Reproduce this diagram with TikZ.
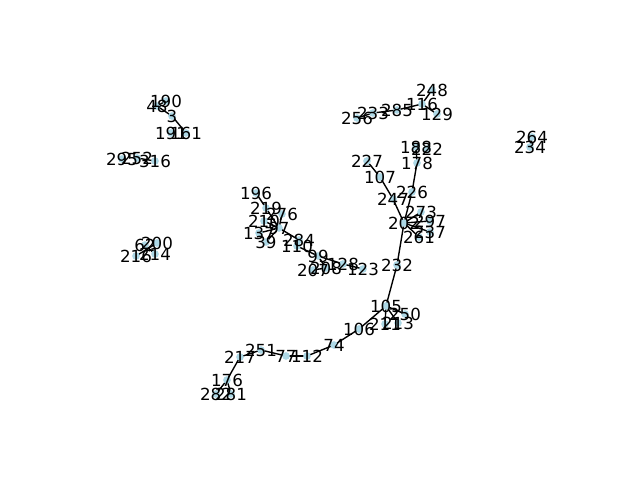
\documentclass[tikz,border=0pt]{standalone}
\usepackage{fontspec}
\setmainfont{DejaVu Sans}
\begin{document}
\begin{tikzpicture}[x=0.72pt,y=-0.72pt,
  vtx/.style={circle,fill={rgb,255:red,173;green,216;blue,230},minimum size=5.5pt,inner sep=0pt},
  lbl/.style={inner sep=0pt,font=\fontsize{12pt}{14pt}\selectfont},
  edge/.style={line width=1pt,black}]
\useasboundingbox (0,0) rectangle (640,480);
\foreach \n/\x/\y in {
 190/166/101, 48/157/106, 3/172/116, 191/171/133, 161/186/133,
 295/122/159, 252/137/158, 316/155/161,
 248/432/90, 116/422/104, 129/437/114, 285/397/110, 233/373/113, 256/357/118,
 264/532/137, 234/530/147,
 188/416/147, 222/427/149, 178/417/163, 227/367/161, 107/380/177,
 226/412/192, 247/393/199, 273/421/212, 297/430/221, 202/404/223,
 237/430/232, 261/419/237, 232/397/265,
 105/386/306, 250/405/314, 211/385/324, 213/398/323, 106/359/329,
 74/334/345, 112/307/356, 77/286/356, 251/261/350, 217/240/357,
 176/227/380, 282/216/394, 281/231/394,
 196/256/193, 219/266/208, 276/282/214, 210/264/221, 97/279/228,
 137/259/233, 39/266/242, 284/299/240, 110/297/246, 99/318/256,
 128/343/264, 123/363/269, 207/313/270, 208/326/268,
 200/157/243, 62/145/245, 216/136/256, 214/155/254}
 { \coordinate (c\n) at (\x,\y); }
% edges
\foreach \a/\b in {48/3, 190/48, 3/161, 252/316,
 256/233, 233/285, 285/116, 116/248, 116/129, 264/234,
 188/178, 178/226, 226/202, 227/107, 107/247, 247/202,
 202/273, 202/297, 202/237, 202/261, 202/232, 232/105,
 105/250, 105/213, 105/211, 105/106, 106/74, 74/112, 112/77, 77/251,
 251/217, 217/176, 176/282, 176/281,
 196/219, 219/97, 276/97, 210/97, 137/97, 39/97, 97/284, 284/110, 110/99,
 99/128, 128/123, 99/208, 208/207, 62/214, 200/216}
 { \draw[edge] (c\a) -- (c\b); }
% nodes
\foreach \n in {190,48,3,191,161,295,252,316,248,116,129,285,233,256,264,234,
 188,222,178,227,107,226,247,273,297,202,237,261,232,105,250,211,213,106,
 74,112,77,251,217,176,282,281,196,219,276,210,97,137,39,284,110,99,128,123,
 207,208,200,62,216,214}
 { \node[vtx] (v\n) at (c\n) {}; }
% labels
\foreach \n in {190,48,3,191,161,295,252,316,248,116,129,285,233,256,264,234,
 188,222,178,227,107,226,247,273,297,202,237,261,232,105,250,211,213,106,
 74,112,77,251,217,176,282,281,196,219,276,210,97,137,39,284,110,99,128,123,
 207,208,200,62,216,214}
 { \node[lbl] (t\n) at (c\n) {\n}; }
\end{tikzpicture}
\end{document}
